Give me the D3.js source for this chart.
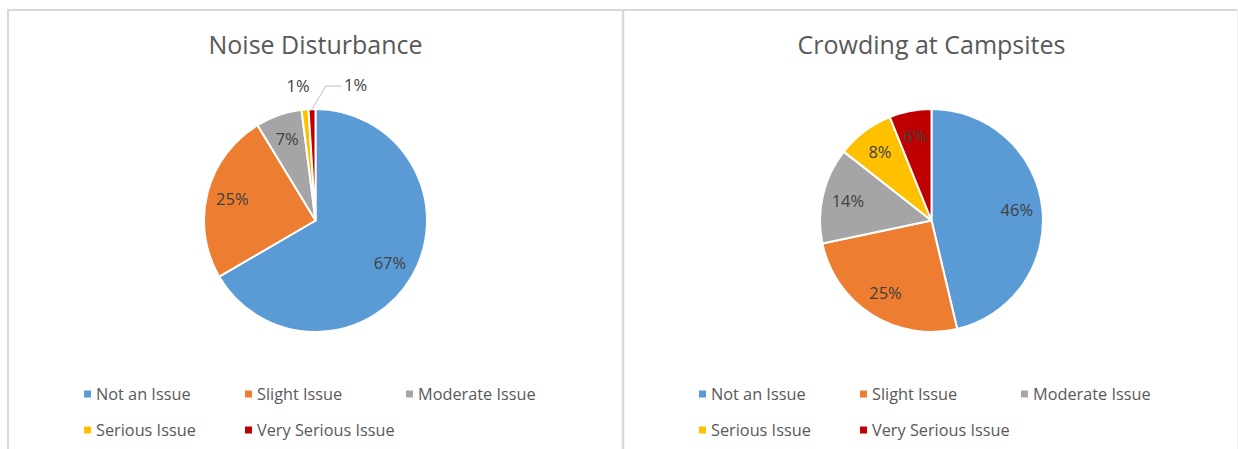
<!DOCTYPE html>
<html><head><meta charset="utf-8">
<script src="https://cdn.jsdelivr.net/npm/d3@7"></script>
<style>
body{margin:0;background:#fff;}
text{font-family:"Open Sans",sans-serif;}
</style></head>
<body><svg id="chart" width="1238" height="449"></svg>
<script>
const categories = ["Not an Issue","Slight Issue","Moderate Issue","Serious Issue","Very Serious Issue"];
const colors = ["#5b9bd5","#ed7d31","#a5a5a5","#ffc000","#c00000"];
const noiseValues = [66.6, 24.7, 6.7, 1.0, 1.0];
const noiseLabels = ["67%","25%","7%","1%","1%"];
const crowdValues = [46.3, 25.4, 13.9, 8.3, 6.1];
const crowdLabels = ["46%","25%","14%","8%","6%"];
const titles = ["Noise Disturbance","Crowding at Campsites"];

const svg = d3.select("#chart");
// panel borders
svg.append("line").attr("x1",8).attr("x2",1238).attr("y1",10).attr("y2",10).attr("stroke","#d9d9d9").attr("stroke-width",2);
svg.append("line").attr("x1",8).attr("x2",8).attr("y1",9).attr("y2",449).attr("stroke","#d9d9d9").attr("stroke-width",2);
svg.append("line").attr("x1",623).attr("x2",623).attr("y1",9).attr("y2",449).attr("stroke","#d9d9d9").attr("stroke-width",2.5);
svg.append("line").attr("x1",1237.5).attr("x2",1237.5).attr("y1",9).attr("y2",449).attr("stroke","#eeeeee").attr("stroke-width",1);

const panels = [
  {values: noiseValues, labels: noiseLabels, title: titles[0], cx: 315.5, legendX: 84},
  {values: crowdValues, labels: crowdLabels, title: titles[1], cx: 931.5, legendX: 699}
];
const R = 111.5, cy = 220.5;
const pie = d3.pie().sort(null).value(d=>d);
const arc = d3.arc().innerRadius(0).outerRadius(R);
const labelArc = d3.arc().innerRadius(R*0.77).outerRadius(R*0.77);

panels.forEach((p, pi) => {
  const g = svg.append("g");
  g.append("text").attr("x", p.cx).attr("y", 54).attr("text-anchor","middle")
    .attr("font-size", 25).attr("fill","#595959").text(p.title);
  const pg = g.append("g").attr("transform", `translate(${p.cx},${cy})`);
  const arcs = pie(p.values);
  pg.selectAll("path").data(arcs).join("path")
    .attr("d", arc).attr("fill", (d,i)=>colors[i])
    .attr("stroke","#fff").attr("stroke-width",2).attr("stroke-linejoin","round");
  arcs.forEach((a, i) => {
    const frac = (a.endAngle - a.startAngle) / (2*Math.PI);
    let x, y;
    if (frac >= 0.03) {
      [x, y] = labelArc.centroid(a);
      pg.append("text").attr("x", x).attr("y", y).attr("dy","0.35em")
        .attr("text-anchor","middle").attr("font-size",16.5).attr("fill","#404040").text(p.labels[i]);
    } else {
      const mid = (a.startAngle + a.endAngle)/2;
      const ex = Math.sin(mid)*R, ey = -Math.cos(mid)*R;
      if (i === 3) {
        pg.append("text").attr("x", ex - 7).attr("y", ey - 23).attr("dy","0.35em")
          .attr("text-anchor","middle").attr("font-size",16.5).attr("fill","#404040").text(p.labels[i]);
      } else {
        const lx = ex + 32, ly = ey - 24;
        pg.append("polyline").attr("points", `${ex},${ey} ${ex+14},${ly+1} ${lx-2},${ly+1}`)
          .attr("fill","none").attr("stroke","#bfbfbf").attr("stroke-width",1);
        pg.append("text").attr("x", lx).attr("y", ly).attr("dy","0.35em")
          .attr("text-anchor","start").attr("font-size",16.5).attr("fill","#404040").text(p.labels[i]);
      }
    }
  });
  // legend
  const colX = [0, 161, 322];
  categories.forEach((c, i) => {
    const row = i < 3 ? 0 : 1;
    const col = i < 3 ? i : i - 3;
    const x = p.legendX + colX[col];
    const y = 394 + row*36;
    g.append("rect").attr("x", x).attr("y", y-3.5).attr("width",7).attr("height",7).attr("fill", colors[i]);
    g.append("text").attr("x", x + 12).attr("y", y).attr("dy","0.35em")
      .attr("font-size",16.3).attr("fill","#595959").text(c);
  });
});
</script></body></html>
